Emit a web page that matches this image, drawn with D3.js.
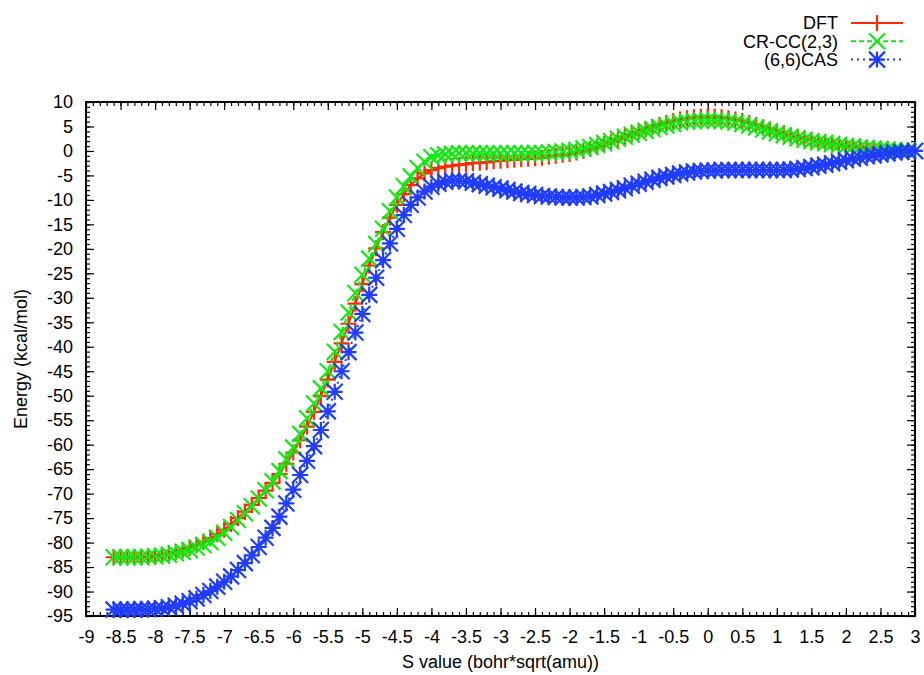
<!DOCTYPE html>
<html>
<head>
<meta charset="utf-8">
<script src="https://cdn.jsdelivr.net/npm/d3@7"></script>
<style>
  body { margin: 0; background: #fff; }
  svg text { font-family: "Liberation Sans", Arial, Helvetica, sans-serif; font-size: 18px; fill: #000; }
</style>
</head>
<body>
<script>
// valores de S (bohr*sqrt(amu))
const sValues = [
  -8.6,-8.5,-8.4,-8.3,-8.2,-8.1,-8.0,-7.9,-7.8,-7.7,
  -7.6,-7.5,-7.4,-7.3,-7.2,-7.1,-7.0,-6.9,-6.8,-6.7,
  -6.6,-6.5,-6.4,-6.3,-6.2,-6.1,-6.0,-5.9,-5.8,-5.7,
  -5.6,-5.5,-5.4,-5.3,-5.2,-5.1,-5.0,-4.9,-4.8,-4.7,
  -4.6,-4.5,-4.4,-4.3,-4.2,-4.1,-4.0,-3.9,-3.8,-3.7,
  -3.6,-3.5,-3.4,-3.3,-3.2,-3.1,-3.0,-2.9,-2.8,-2.7,
  -2.6,-2.5,-2.4,-2.3,-2.2,-2.1,-2.0,-1.9,-1.8,-1.7,
  -1.6,-1.5,-1.4,-1.3,-1.2,-1.1,-1.0,-0.9,-0.8,-0.7,
  -0.6,-0.5,-0.4,-0.3,-0.2,-0.1,0.0,0.1,0.2,0.3,
  0.4,0.5,0.6,0.7,0.8,0.9,1.0,1.1,1.2,1.3,
  1.4,1.5,1.6,1.7,1.8,1.9,2.0,2.1,2.2,2.3,
  2.4,2.5,2.6,2.7,2.8,2.9,3.0
];

// energía (kcal/mol) para cada método
const dftEnergy = [
  -83.0,-83.0,-83.0,-83.0,-83.0,-82.9,-82.8,-82.6,-82.3,-82.0,
  -81.6,-81.1,-80.5,-79.8,-79.1,-78.3,-77.4,-76.2,-75.0,-73.7,
  -72.3,-70.9,-69.4,-67.8,-66.0,-63.9,-61.6,-59.1,-56.3,-53.3,
  -50.1,-46.7,-43.1,-39.3,-35.3,-31.2,-27.2,-23.4,-19.9,-16.6,
  -13.6,-11.0,-8.8,-7.0,-5.6,-4.6,-3.9,-3.5,-3.2,-3.0,
  -2.8,-2.7,-2.5,-2.4,-2.3,-2.1,-2.0,-1.9,-1.8,-1.7,
  -1.6,-1.5,-1.4,-1.2,-1.0,-0.8,-0.6,-0.3,0.0,0.4,
  0.9,1.4,1.9,2.4,2.9,3.4,3.9,4.4,4.9,5.3,
  5.7,6.1,6.4,6.7,6.9,7.0,7.0,7.0,6.9,6.7,
  6.4,6.1,5.7,5.3,4.8,4.4,3.9,3.5,3.1,2.8,
  2.5,2.2,1.9,1.7,1.5,1.3,1.1,0.9,0.8,0.6,
  0.5,0.4,0.3,0.2,0.1,0.1,0.0
];

const crccEnergy = [
  -83.0,-83.0,-83.0,-83.0,-83.0,-82.9,-82.8,-82.7,-82.5,-82.2,
  -81.9,-81.5,-81.0,-80.5,-79.9,-79.0,-78.0,-76.8,-75.4,-74.0,
  -72.6,-71.0,-69.3,-67.5,-65.4,-63.0,-60.6,-57.8,-54.6,-51.6,
  -48.5,-45.0,-41.0,-37.0,-33.0,-29.0,-25.3,-22.0,-19.0,-15.9,
  -12.3,-9.5,-7.2,-5.2,-3.5,-2.2,-1.3,-0.9,-0.7,-0.6,
  -0.5,-0.5,-0.5,-0.5,-0.5,-0.5,-0.5,-0.5,-0.5,-0.5,
  -0.5,-0.4,-0.4,-0.3,-0.2,-0.1,0.0,0.2,0.5,0.8,
  1.2,1.6,2.0,2.5,2.9,3.3,3.7,4.1,4.5,4.9,
  5.2,5.5,5.8,6.0,6.1,6.2,6.2,6.2,6.1,6.0,
  5.8,5.5,5.2,4.8,4.4,4.0,3.6,3.2,2.9,2.6,
  2.3,2.0,1.8,1.6,1.4,1.2,1.0,0.9,0.7,0.6,
  0.5,0.4,0.3,0.2,0.1,0.1,0.0
];

const casEnergy = [
  -93.7,-93.7,-93.7,-93.7,-93.6,-93.6,-93.5,-93.4,-93.2,-92.9,
  -92.5,-92.0,-91.4,-90.7,-89.9,-89.0,-88.0,-86.9,-85.6,-84.2,
  -82.6,-80.9,-79.0,-77.0,-74.7,-72.0,-69.2,-66.2,-63.3,-60.3,
  -57.0,-53.2,-49.2,-45.0,-41.1,-37.1,-33.3,-29.4,-25.9,-22.3,
  -18.9,-15.9,-13.1,-11.0,-9.5,-8.3,-7.3,-6.7,-6.3,-6.1,
  -6.1,-6.2,-6.5,-6.8,-7.1,-7.4,-7.7,-8.0,-8.3,-8.6,
  -8.8,-9.0,-9.2,-9.3,-9.4,-9.5,-9.5,-9.5,-9.4,-9.3,
  -9.0,-8.7,-8.4,-8.0,-7.6,-7.1,-6.7,-6.3,-5.9,-5.5,
  -5.2,-4.9,-4.6,-4.4,-4.2,-4.1,-4.0,-4.0,-3.9,-3.9,
  -3.9,-3.9,-3.9,-3.9,-3.9,-3.9,-3.9,-3.9,-3.8,-3.7,
  -3.5,-3.3,-3.0,-2.8,-2.5,-2.2,-1.9,-1.6,-1.4,-1.1,
  -0.9,-0.7,-0.5,-0.3,-0.2,-0.1,0.0
];

// etiquetas de los ejes
const xTickValues = [-9,-8.5,-8,-7.5,-7,-6.5,-6,-5.5,-5,-4.5,-4,-3.5,-3,-2.5,-2,-1.5,-1,-0.5,0,0.5,1,1.5,2,2.5,3];
const yTickValues = [10,5,0,-5,-10,-15,-20,-25,-30,-35,-40,-45,-50,-55,-60,-65,-70,-75,-80,-85,-90,-95];

const seriesNames = ["DFT", "CR-CC(2,3)", "(6,6)CAS"];

// Configuración del diseño
const width = 924;
const height = 675;
const margin = { top: 102, right: 9, bottom: 59, left: 86 };
const plotW = width - margin.left - margin.right;
const plotH = height - margin.top - margin.bottom;

const x = d3.scaleLinear().domain([-9, 3]).range([0, plotW]);
const y = d3.scaleLinear().domain([-95, 10]).range([plotH, 0]);

const svg = d3.select("body").append("svg")
    .attr("width", width)
    .attr("height", height);

const g = svg.append("g").attr("transform", `translate(${margin.left},${margin.top})`);

// marcas menores (0.1 en x, 1 en y)
const xMinor = d3.range(0, 121).map(i => Math.round((-9 + i * 0.1) * 10) / 10);
const yMinor = d3.range(0, 106).map(i => -95 + i);
const fmt = d => String(+d.toFixed(1));

function styleAxis(sel) {
    sel.select(".domain").remove();
    sel.selectAll(".tick line").attr("stroke", "#000").attr("stroke-width", 1.2);
    sel.selectAll("text").attr("font-size", null).attr("font-family", null).attr("fill", "#000");
}

// eje inferior
g.append("g").attr("transform", `translate(0,${plotH})`)
    .call(d3.axisBottom(x).tickValues(xMinor).tickSize(-4).tickFormat(""))
    .call(styleAxis);
g.append("g").attr("transform", `translate(0,${plotH})`)
    .call(d3.axisBottom(x).tickValues(xTickValues).tickSize(-8).tickPadding(14).tickFormat(fmt))
    .call(styleAxis);

// eje superior (espejo)
g.append("g")
    .call(d3.axisTop(x).tickValues(xMinor).tickSize(-4).tickFormat(""))
    .call(styleAxis);
g.append("g")
    .call(d3.axisTop(x).tickValues(xTickValues).tickSize(-8).tickFormat(""))
    .call(styleAxis);

// eje izquierdo
g.append("g")
    .call(d3.axisLeft(y).tickValues(yMinor).tickSize(-4).tickFormat(""))
    .call(styleAxis);
g.append("g")
    .call(d3.axisLeft(y).tickValues(yTickValues).tickSize(-8).tickPadding(13).tickFormat(fmt))
    .call(styleAxis);

// eje derecho (espejo)
g.append("g").attr("transform", `translate(${plotW},0)`)
    .call(d3.axisRight(y).tickValues(yMinor).tickSize(-4).tickFormat(""))
    .call(styleAxis);
g.append("g").attr("transform", `translate(${plotW},0)`)
    .call(d3.axisRight(y).tickValues(yTickValues).tickSize(-8).tickFormat(""))
    .call(styleAxis);

// marco
g.append("rect")
    .attr("width", plotW)
    .attr("height", plotH)
    .attr("fill", "none")
    .attr("stroke", "#000")
    .attr("stroke-width", 2);

// símbolos estilo gnuplot
const s = 8;
const plusPath = `M${-s},0H${s}M0,${-s}V${s}`;
const crossPath = `M${-s},${-s}L${s},${s}M${-s},${s}L${s},${-s}`;
const starPath = plusPath + crossPath;

const series = [
    { name: seriesNames[0], values: dftEnergy, color: "#ff2a00", dash: null, symbol: plusPath },
    { name: seriesNames[1], values: crccEnergy, color: "#10ea10", dash: "5,3", symbol: crossPath },
    { name: seriesNames[2], values: casEnergy, color: "#1f3cff", dash: "2,4", symbol: starPath }
];

const line = d3.line()
    .x((d, i) => x(sValues[i]))
    .y(d => y(d));

series.forEach(sr => {
    const layer = g.append("g");
    layer.append("path")
        .datum(sr.values)
        .attr("fill", "none")
        .attr("stroke", sr.color)
        .attr("stroke-width", 2)
        .attr("stroke-dasharray", sr.dash)
        .attr("d", line);

    layer.selectAll("path.pt")
        .data(sr.values)
        .join("path")
        .attr("class", "pt")
        .attr("transform", (d, i) => `translate(${x(sValues[i])},${y(d)})`)
        .attr("d", sr.symbol)
        .attr("fill", "none")
        .attr("stroke", sr.color)
        .attr("stroke-width", 2.2);
});

// leyenda
const legend = svg.append("g");
series.forEach((sr, i) => {
    const ly = 23 + i * 18.3;
    legend.append("text")
        .attr("x", 838)
        .attr("y", ly)
        .attr("dy", "0.35em")
        .attr("text-anchor", "end")
        .text(sr.name);
    legend.append("line")
        .attr("x1", 851).attr("x2", 903)
        .attr("y1", ly).attr("y2", ly)
        .attr("stroke", sr.color)
        .attr("stroke-width", 2)
        .attr("stroke-dasharray", sr.dash);
    legend.append("path")
        .attr("transform", `translate(877,${ly})`)
        .attr("d", sr.symbol)
        .attr("fill", "none")
        .attr("stroke", sr.color)
        .attr("stroke-width", 2.2);
});

// títulos de los ejes
svg.append("text")
    .attr("x", margin.left + plotW / 2)
    .attr("y", 668)
    .attr("text-anchor", "middle")
    .text("S value (bohr*sqrt(amu))");

svg.append("text")
    .attr("transform", `translate(27,${margin.top + plotH / 2}) rotate(-90)`)
    .attr("text-anchor", "middle")
    .text("Energy (kcal/mol)");
</script>
</body>
</html>
